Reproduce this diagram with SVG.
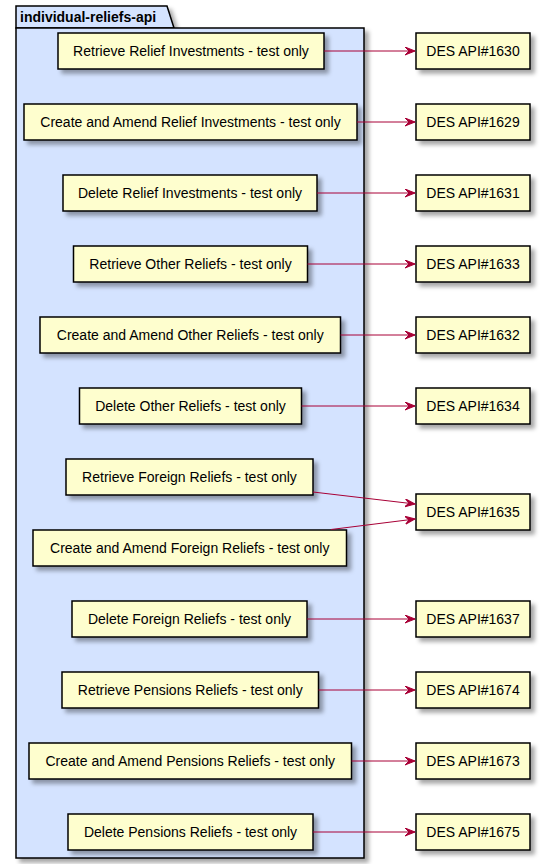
<svg xmlns="http://www.w3.org/2000/svg" width="540" height="864" viewBox="0 0 540 864">
<defs>
<filter id="sh" x="-10%" y="-10%" width="130%" height="140%">
<feDropShadow dx="4" dy="4" stdDeviation="2" flood-color="#000" flood-opacity="0.35"/>
</filter>
<marker id="arr" markerUnits="userSpaceOnUse" markerWidth="11" markerHeight="9" refX="10" refY="4" orient="auto" viewBox="0 0 11 9">
<path d="M0,0 L10,4 L0,8 L4,4 Z" fill="#A80036" stroke="#A80036" stroke-width="1"/>
</marker>
<style>
.pkg{fill:#D4E3FF;stroke:#000;stroke-width:1.5}
.n rect{fill:#FEFECE;stroke:#000;stroke-width:1.5;filter:url(#sh)}
.n text{font-family:"Liberation Sans",Arial,sans-serif;font-size:14px;fill:#000;text-anchor:middle}
.t{font-family:"Liberation Sans",Arial,sans-serif;font-size:14px;font-weight:bold;fill:#000}
.c line{stroke:#A80036;stroke-width:1;marker-end:url(#arr)}
</style>
</defs>
<rect width="540" height="864" fill="#fff"/>
<g id="package" filter="url(#sh)">
<path class="pkg" d="M16,28 L16,6 L167,6 L174,28 Z"/>
<rect class="pkg" x="16" y="28" width="348" height="830"/>
</g>
<text class="t" x="20" y="22">individual-reliefs-api</text>

<g id="n1" class="n"><rect x="58" y="33" width="266" height="36"/><text x="191" y="56">Retrieve Relief Investments - test only</text></g>
<g id="n2" class="n"><rect x="24" y="104" width="333" height="36"/><text x="190.5" y="127">Create and Amend Relief Investments - test only</text></g>
<g id="n3" class="n"><rect x="63" y="175" width="254" height="36"/><text x="190" y="198">Delete Relief Investments - test only</text></g>
<g id="n4" class="n"><rect x="73.5" y="246" width="234" height="36"/><text x="190.5" y="269">Retrieve Other Reliefs - test only</text></g>
<g id="n5" class="n"><rect x="40" y="317" width="300.5" height="36"/><text x="190.25" y="340">Create and Amend Other Reliefs - test only</text></g>
<g id="n6" class="n"><rect x="79.5" y="388" width="222" height="36"/><text x="190.5" y="411">Delete Other Reliefs - test only</text></g>
<g id="n7" class="n"><rect x="66" y="459" width="247" height="36"/><text x="189.5" y="482">Retrieve Foreign Reliefs - test only</text></g>
<g id="n8" class="n"><rect x="33" y="530" width="313.5" height="36"/><text x="189.75" y="553">Create and Amend Foreign Reliefs - test only</text></g>
<g id="n9" class="n"><rect x="72" y="601" width="235" height="36"/><text x="189.5" y="624">Delete Foreign Reliefs - test only</text></g>
<g id="n10" class="n"><rect x="62" y="672" width="256.5" height="36"/><text x="190.25" y="695">Retrieve Pensions Reliefs - test only</text></g>
<g id="n11" class="n"><rect x="29" y="743" width="322.5" height="36"/><text x="190.25" y="766">Create and Amend Pensions Reliefs - test only</text></g>
<g id="n12" class="n"><rect x="68" y="814" width="245" height="36"/><text x="190.5" y="837">Delete Pensions Reliefs - test only</text></g>

<g id="d1630" class="n"><rect x="416" y="33" width="114" height="36"/><text x="473" y="56">DES API#1630</text></g>
<g id="d1629" class="n"><rect x="416" y="104" width="114" height="36"/><text x="473" y="127">DES API#1629</text></g>
<g id="d1631" class="n"><rect x="416" y="175" width="114" height="36"/><text x="473" y="198">DES API#1631</text></g>
<g id="d1633" class="n"><rect x="416" y="246" width="114" height="36"/><text x="473" y="269">DES API#1633</text></g>
<g id="d1632" class="n"><rect x="416" y="317" width="114" height="36"/><text x="473" y="340">DES API#1632</text></g>
<g id="d1634" class="n"><rect x="416" y="388" width="114" height="36"/><text x="473" y="411">DES API#1634</text></g>
<g id="d1635" class="n"><rect x="416" y="494" width="114" height="36"/><text x="473" y="517">DES API#1635</text></g>
<g id="d1637" class="n"><rect x="416" y="601" width="114" height="36"/><text x="473" y="624">DES API#1637</text></g>
<g id="d1674" class="n"><rect x="416" y="672" width="114" height="36"/><text x="473" y="695">DES API#1674</text></g>
<g id="d1673" class="n"><rect x="416" y="743" width="114" height="36"/><text x="473" y="766">DES API#1673</text></g>
<g id="d1675" class="n"><rect x="416" y="814" width="114" height="36"/><text x="473" y="837">DES API#1675</text></g>

<g id="connectors" class="c">
<line x1="324" y1="51" x2="415" y2="51"/>
<line x1="357" y1="122" x2="415" y2="122"/>
<line x1="317" y1="193" x2="415" y2="193"/>
<line x1="307.5" y1="264" x2="415" y2="264"/>
<line x1="340.5" y1="335" x2="415" y2="335"/>
<line x1="301.5" y1="406" x2="415" y2="406"/>
<line x1="313" y1="492" x2="415" y2="504"/>
<line x1="331" y1="529.5" x2="415" y2="519"/>
<line x1="307" y1="619" x2="415" y2="619"/>
<line x1="318.5" y1="690" x2="415" y2="690"/>
<line x1="351.5" y1="761" x2="415" y2="761"/>
<line x1="313" y1="832" x2="415" y2="832"/>
</g>
</svg>
